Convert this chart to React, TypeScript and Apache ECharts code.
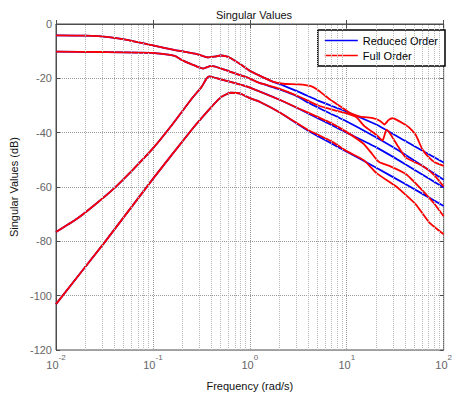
import React, { useEffect, useRef } from "react";
import * as echarts from "echarts";

// Frequency (rad/s) vs singular value (dB), shared low-frequency branch + high-frequency branches
const sv1Low: [number, number][] = [
  [0.01, -4.2], [0.02, -4.3], [0.035, -4.8], [0.056, -5.9], [0.1, -7.9], [0.17, -9.6],
  [0.28, -11.0], [0.37, -12.3], [0.43, -12.0], [0.5, -11.6], [0.56, -11.8], [0.63, -12.5],
  [0.8, -14.8], [1, -17.2], [1.26, -19.0], [1.72, -21.2],
];
const sv1ReducedHigh: [number, number][] = [
  [2, -22.0], [3.2, -25.0], [5, -28.1], [7.4, -30.5], [10, -32.3], [20.4, -37.1], [39.8, -43.0], [100, -51.0],
];
const sv1FullHigh: [number, number][] = [
  [2.2, -22.0], [3.2, -22.2], [4.2, -22.8], [5, -24.2], [5.8, -26.0], [6.9, -28.1], [8.7, -30.5],
  [11, -32.9], [13.8, -34.1], [19, -34.7], [21.9, -35.6], [24.5, -37.0], [26.9, -35.4], [29.5, -34.7],
  [32.4, -35.2], [39.8, -37.0], [44.7, -38.3], [51.3, -40.7], [60.3, -46.1], [70.8, -49.2],
  [81.8, -51.0], [100, -52.2],
];

const sv2Low: [number, number][] = [
  [0.01, -10.2], [0.03, -10.3], [0.1, -10.6], [0.17, -11.8], [0.2, -13.3], [0.25, -14.8],
  [0.3, -16.0], [0.33, -16.4], [0.4, -15.4], [0.5, -16.3], [0.63, -17.6], [0.93, -19.6], [1.26, -21.7],
];
const sv2ReducedHigh: [number, number][] = [
  [2, -24.0], [3.2, -26.9], [4, -29.0], [10, -35.9], [20.4, -41.9], [39.8, -48.0], [100, -57.3],
];
const sv2FullHigh: [number, number][] = [
  [2, -23.8], [3.2, -26.7], [5, -29.9], [7.4, -31.7], [10, -32.9], [12.6, -34.3], [15.1, -37.5],
  [20.4, -40.9], [23.4, -42.9], [25.7, -38.9], [28.2, -40.5], [33.1, -44.5], [40.7, -49.2],
  [60.3, -52.2], [79.4, -55.5], [100, -59.8],
];

const sv3Low: [number, number][] = [
  [0.01, -76.6], [0.016, -72.0], [0.025, -66.6], [0.04, -60.4], [0.063, -53.4], [0.1, -45.8],
  [0.16, -36.8], [0.25, -27.6], [0.32, -23.0], [0.355, -20.2], [0.38, -19.3], [0.42, -19.6],
  [0.5, -20.4], [0.8, -22.3], [1, -23.4],
];
const sv3ReducedHigh: [number, number][] = [
  [2, -27.8], [4, -32.9], [10, -40.0], [20.4, -45.5], [39.8, -51.5], [100, -60.2],
];
const sv3FullHigh: [number, number][] = [
  [2, -27.8], [3.2, -31.1], [6.9, -36.5], [10, -39.8], [14.8, -44.0], [17.5, -47.0], [20.4, -50.0],
  [22, -51.0], [27.5, -52.2], [40.7, -55.2], [60.3, -61.2], [79.4, -66.0], [100, -70.8],
];

const sv4Low: [number, number][] = [
  [0.01, -103.1], [0.032, -80.2], [0.1, -57.0], [0.25, -39.0], [0.4, -30.6], [0.5, -27.0],
  [0.63, -25.3], [0.8, -25.6], [1, -27.3], [1.26, -28.6],
];
const sv4ReducedHigh: [number, number][] = [
  [2, -32.4], [4, -39.3], [10, -47.0], [20.4, -53.0], [39.8, -58.8], [100, -67.0],
];
const sv4FullHigh: [number, number][] = [
  [2, -32.4], [4, -39.0], [6.9, -43.1], [10, -46.8], [15.1, -50.2], [20.4, -55.0], [32.4, -59.8],
  [51.3, -66.3], [70.8, -73.0], [100, -77.4],
];

const minorFreqs = [
  0.02, 0.03, 0.04, 0.05, 0.06, 0.07, 0.08, 0.09,
  0.2, 0.3, 0.4, 0.5, 0.6, 0.7, 0.8, 0.9,
  2, 3, 4, 5, 6, 7, 8, 9,
  20, 30, 40, 50, 60, 70, 80, 90,
];

const FONT = "'Liberation Sans', Arial, Helvetica, sans-serif";
const AXIS_COLOR = "#4d4d4d";
const LABEL_COLOR = "#666";

export default function App() {
  const ref = useRef<HTMLDivElement>(null);

  useEffect(() => {
    if (!ref.current) return;
    const chart = echarts.init(ref.current, undefined, { renderer: "svg" });

    const reduced = [
      [...sv1Low, ...sv1ReducedHigh],
      [...sv2Low, ...sv2ReducedHigh],
      [...sv3Low, ...sv3ReducedHigh],
      [...sv4Low, ...sv4ReducedHigh],
    ];
    const full = [
      [...sv1Low, ...sv1FullHigh],
      [...sv2Low, ...sv2FullHigh],
      [...sv3Low, ...sv3FullHigh],
      [...sv4Low, ...sv4FullHigh],
    ];

    const curve = (name: string, color: string, data: [number, number][], z: number) => ({
      type: "line",
      name,
      data,
      xAxisIndex: 0,
      yAxisIndex: 0,
      symbol: "none",
      smooth: 0.15,
      color,
      lineStyle: { color, width: 1.8 },
      z,
    });

    chart.setOption({
      animation: false,
      backgroundColor: "#fff",
      title: {
        text: "Singular Values",
        left: 249,
        top: 4,
        textAlign: "center",
        textStyle: { fontFamily: FONT, fontSize: 11, fontWeight: "normal", color: "#111" },
      },
      legend: {
        data: ["Reduced Order", "Full Order"],
        orient: "vertical",
        right: 10,
        top: 30,
        backgroundColor: "#fff",
        borderColor: "#000",
        borderWidth: 1.5,
        padding: [5, 7, 5, 7],
        itemGap: 4,
        itemWidth: 33,
        itemHeight: 1.5,
        icon: "rect",
        textStyle: { fontFamily: FONT, fontSize: 11, color: "#000" },
      },
      grid: {
        left: 51,
        right: 7,
        top: 24,
        bottom: 40,
        show: true,
        borderColor: AXIS_COLOR,
        borderWidth: 1,
        backgroundColor: "#fff",
      },
      xAxis: [
        {
          type: "log",
          logBase: 10,
          min: 0.01,
          max: 100,
          splitNumber: 4,
          position: "bottom",
          name: "Frequency (rad/s)",
          nameLocation: "middle",
          nameGap: 30,
          nameTextStyle: { fontFamily: FONT, fontSize: 11, color: "#111" },
          axisLine: { show: true, lineStyle: { color: AXIS_COLOR } },
          axisTick: { show: true, inside: true, length: 4, lineStyle: { color: AXIS_COLOR } },
          splitLine: { show: true, lineStyle: { color: "#9a9a9a", type: "dotted", width: 1 } },
          axisLabel: {
            margin: 3,
            formatter: (v: number) => `{b|10}{s|${Math.round(Math.log10(v))}}`,
            rich: {
              b: { fontFamily: FONT, fontSize: 11, color: LABEL_COLOR, lineHeight: 17, verticalAlign: "bottom" },
              s: { fontFamily: FONT, fontSize: 8, color: LABEL_COLOR, verticalAlign: "top" },
            },
          },
        },
        {
          type: "log",
          logBase: 10,
          min: 0.01,
          max: 100,
          splitNumber: 4,
          position: "top",
          axisLine: { show: false },
          axisTick: { show: true, inside: true, length: 4, lineStyle: { color: AXIS_COLOR } },
          axisLabel: { show: false },
          splitLine: { show: false },
        },
      ],
      yAxis: [
        {
          type: "value",
          min: -120,
          max: 0,
          interval: 20,
          name: "Singular Values (dB)",
          nameLocation: "middle",
          nameGap: 37,
          nameTextStyle: { fontFamily: FONT, fontSize: 11, color: "#111" },
          axisLine: { show: true, lineStyle: { color: AXIS_COLOR } },
          axisTick: { show: true, inside: true, length: 4, lineStyle: { color: AXIS_COLOR } },
          splitLine: { show: true, lineStyle: { color: "#9a9a9a", type: "dotted", width: 1 } },
          axisLabel: { margin: 4, fontFamily: FONT, fontSize: 11, color: LABEL_COLOR },
        },
        {
          type: "value",
          min: -120,
          max: 0,
          interval: 20,
          position: "right",
          axisLine: { show: false },
          axisTick: { show: true, inside: true, length: 4, lineStyle: { color: AXIS_COLOR } },
          axisLabel: { show: false },
          splitLine: { show: false },
        },
      ],
      series: [
        {
          type: "line",
          name: "minor-grid",
          data: [],
          xAxisIndex: 0,
          yAxisIndex: 0,
          z: 1,
          silent: true,
          markLine: {
            silent: true,
            symbol: ["none", "none"],
            label: { show: false },
            lineStyle: { color: "#b8b8b8", type: "dotted", width: 1 },
            data: minorFreqs.map((f) => ({ xAxis: f })),
          },
        },
        ...reduced.map((d) => curve("Reduced Order", "#0000ff", d as [number, number][], 3)),
        ...full.map((d) => curve("Full Order", "#ff0000", d as [number, number][], 4)),
      ],
    });

    return () => chart.dispose();
  }, []);

  return (
    <div
      ref={ref}
      style={{ position: "fixed", left: 0, top: 0, width: 455, height: 396, background: "#fff" }}
    />
  );
}
